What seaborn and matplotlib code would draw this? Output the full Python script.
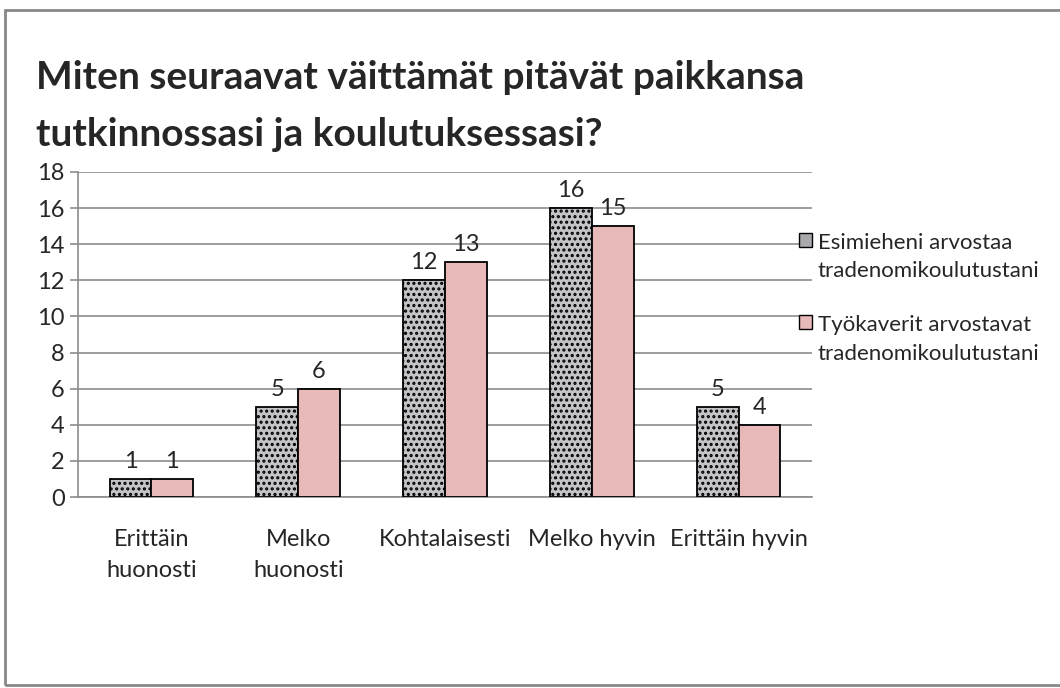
import numpy as np
import pandas as pd
import seaborn as sb
import matplotlib.pyplot as plt
from matplotlib.patches import Rectangle

categories = ["Erittäin\nhuonosti", "Melko\nhuonosti", "Kohtalaisesti", "Melko hyvin", "Erittäin hyvin"]
series_names = ["Esimieheni arvostaa\ntradenomikoulutustani", "Työkaverit arvostavat\ntradenomikoulutustani"]
esimies = [1, 5, 12, 16, 5]
tyokaverit = [1, 6, 13, 15, 4]
title = "Miten seuraavat väittämät pitävät paikkansa\ntutkinnossasi ja koulutuksessasi?"

df = pd.DataFrame({
    "kategoria": categories * 2,
    "sarja": [series_names[0]] * 5 + [series_names[1]] * 5,
    "arvo": esimies + tyokaverit,
})

sb.set_style("white")
plt.rcParams['font.family'] = ['Lato', 'DejaVu Sans']
plt.rcParams['hatch.color'] = '#4a4a4a'
plt.rcParams['hatch.linewidth'] = 1.5

fig = plt.figure(figsize=(10.6, 6.88), dpi=100)
ax = fig.add_axes([78/1060, 1-497/688, (812-78)/1060, (497-172)/688])

cols = ["#a9a9ad", "#e8b9b9"]
sb.barplot(data=df, x="kategoria", y="arvo", hue="sarja", palette=cols,
           width=0.57, edgecolor="black", linewidth=1.3, ax=ax, saturation=1, zorder=3)

# granite-like look for first series
for p in ax.containers[0]:
    p.set_hatch("...")
    p.set_facecolor("#c4c4c8")

for c in ax.containers:
    ax.bar_label(c, fontsize=17, padding=5)

ax.set_ylim(0, 18)
ax.set_yticks(range(0, 19, 2))
ax.set_xlim(-0.5, 4.5)
ax.grid(axis="y", color="#8c8c8c", linewidth=1.2, zorder=0)
ax.set_axisbelow(True)
for s in ["top", "right"]:
    ax.spines[s].set_visible(False)
for s in ["left", "bottom"]:
    ax.spines[s].set_color("#8c8c8c")
    ax.spines[s].set_linewidth(1.2)

ax.set_xticks(np.arange(5))
ax.set_xticklabels(categories, fontsize=17, linespacing=1.6)
ax.tick_params(axis="x", length=0, pad=23)
ax.set_xticks(np.arange(-0.5, 5, 1), minor=True)
ax.tick_params(axis="x", which="minor", length=8, color="#8c8c8c", width=1.2, direction="out")
ax.tick_params(axis="y", labelsize=17, length=6, color="#8c8c8c", width=1.2, left=True, direction="out")
ax.set_xlabel("")
ax.set_ylabel("")

leg = ax.legend(loc="upper left", bbox_to_anchor=(0.955, 0.875), frameon=False, fontsize=16,
                handlelength=0.6, handleheight=0.6, handletextpad=0.25, labelspacing=1.5)
for t in leg.get_texts():
    t.set_linespacing(1.55)
for h in leg.legend_handles:
    h.set_edgecolor("black")
    h.set_linewidth(1.0)
# square next to the first line of each entry
for col in leg._legend_handle_box.get_children():
    for row in col.get_children():
        row.align = "top"

fig.text(36/1060, 1-60/688, title, fontsize=28, fontweight="bold", va="top", ha="left", linespacing=1.75)

fig.patches.append(Rectangle((5/1060, 0.005), 1.0, 1-10/688-0.005, transform=fig.transFigure,
                             fill=False, edgecolor="#888888", linewidth=2))

fig.savefig("out.png", dpi=100)
